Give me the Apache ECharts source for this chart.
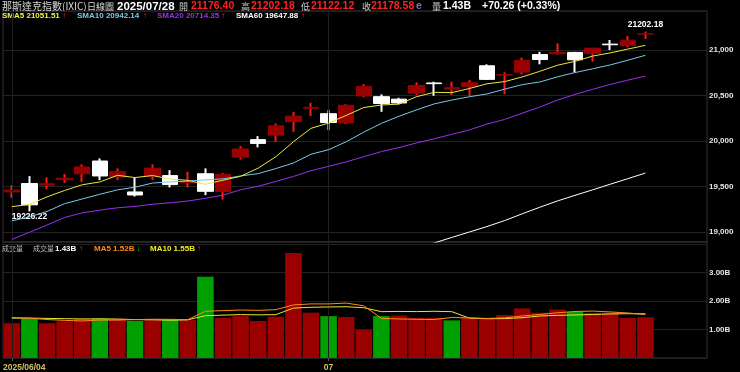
<!DOCTYPE html>
<html><head><meta charset="utf-8">
<script src="https://cdn.jsdelivr.net/npm/echarts@6/dist/echarts.min.js"></script>
<style>html,body{margin:0;padding:0;background:#000;}#c{width:740px;height:372px;}</style>
</head><body><div id="c"></div>
<script>
const dates = ['2025/06/04','2025/06/05','2025/06/06','2025/06/09','2025/06/10','2025/06/11','2025/06/12','2025/06/13','2025/06/16','2025/06/17','2025/06/18','2025/06/20','2025/06/23','2025/06/24','2025/06/25','2025/06/26','2025/06/27','2025/06/30','2025/07/01','2025/07/02','2025/07/03','2025/07/07','2025/07/08','2025/07/09','2025/07/10','2025/07/11','2025/07/14','2025/07/15','2025/07/16','2025/07/17','2025/07/18','2025/07/21','2025/07/22','2025/07/23','2025/07/24','2025/07/25','2025/07/28'];
const emptySlots = ['_a','_b','_c'];
const openP  = [19440,19533,19515,19575,19640,19780,19605,19440,19615,19620,19540,19640,19445,19822,20015,20065,20212,20360,20300,20200,20495,20487,20460,20525,20638,20570,20598,20827,20725,20757,20950,20960,20974,20964,21065,21048,21176.40];
const closeP = [19460.49,19298.45,19529.95,19591.24,19714.99,19615.88,19662.49,19406.83,19701.21,19521.09,19546.27,19447.41,19630.97,19912.53,19973.55,20167.91,20273.46,20369.73,20202.89,20393.13,20601.10,20412.52,20418.46,20611.34,20630.67,20585.53,20640.33,20677.80,20730.49,20885.65,20895.66,20974.17,20892.69,21020.02,21057.96,21108.32,21178.58];
const highP  = [19515,19614,19600,19636,19743,19809,19699,19600,19743,19680,19662,19699,19650,19944,20054,20193,20321,20420,20340,20403,20626,20513,20475,20645,20652,20652,20670,20843,20755,20916,20981,21073,20980,21025,21110,21154,21202.18];
const lowP   = [19375,19226.22,19470,19540,19550,19570,19570,19390,19570,19490,19490,19405,19357,19797,19930,19991,20101,20275,20120,20186,20480,20321,20406,20505,20497,20505,20494,20670,20516,20733,20843,20950,20755,20871,21000,21030,21122.12];
const sma5  = [19278.3,19302.9,19386.1,19455.8,19519.0,19550.1,19622.9,19598.3,19620.3,19581.5,19567.6,19524.6,19569.4,19611.7,19702.1,19826.5,19991.7,20139.4,20197.5,20281.4,20368.1,20395.9,20405.6,20487.3,20534.8,20531.7,20577.3,20629.1,20653.0,20704.0,20766.0,20832.8,20875.7,20933.6,20968.1,21010.6,21051.51];
const sma10 = [19122.7,19165.4,19225.8,19311.2,19362.7,19414.2,19462.9,19492.2,19538.1,19550.3,19558.9,19573.8,19583.9,19616.0,19641.8,19697.1,19758.2,19854.4,19904.6,19991.8,20097.3,20193.8,20272.5,20342.4,20408.1,20449.9,20486.6,20517.4,20570.2,20619.4,20648.9,20705.1,20752.4,20793.3,20836.1,20888.3,20942.14];
const sma20 = [18918.5,18996.5,19076.6,19159.7,19210.0,19240.3,19266.1,19280.8,19305.3,19320.6,19340.8,19369.6,19404.9,19463.6,19502.3,19555.7,19610.6,19673.3,19721.4,19771.1,19828.1,19883.8,19928.2,19979.2,20025.0,20073.5,20122.4,20185.9,20237.4,20305.6,20373.1,20449.5,20512.5,20567.9,20622.1,20669.1,20714.35];
const sma60 = [17925,17930,17940,17950,17965,17980,17995,18010,18030,18050,18075,18100,18130,18165,18205,18245,18290,18345,18420,18500,18580,18660,18740,18815,18880,18940,19000,19060,19125,19200,19272,19341,19403,19463,19525,19586,19647.88];
const volumes = [1.22,1.38,1.22,1.29,1.38,1.38,1.38,1.30,1.36,1.36,1.33,2.85,1.41,1.47,1.30,1.45,3.68,1.59,1.47,1.44,0.98,1.47,1.49,1.41,1.41,1.32,1.41,1.39,1.51,1.74,1.59,1.70,1.62,1.58,1.59,1.41,1.43];
const volUp = [1,0,1,1,1,0,1,0,1,0,1,0,1,1,1,1,1,1,0,1,1,0,1,1,1,0,1,1,1,1,1,1,0,1,1,1,1];
const volMA5  = [1.42,1.40,1.35,1.32,1.30,1.33,1.33,1.346,1.36,1.356,1.346,1.64,1.662,1.684,1.672,1.696,1.862,1.898,1.898,1.926,1.832,1.39,1.37,1.358,1.352,1.42,1.408,1.388,1.408,1.474,1.528,1.586,1.632,1.646,1.616,1.58,1.52];
const volMA10 = [1.40,1.40,1.39,1.38,1.37,1.375,1.365,1.348,1.34,1.327,1.338,1.485,1.504,1.522,1.514,1.521,1.751,1.78,1.791,1.799,1.764,1.626,1.634,1.628,1.639,1.626,1.399,1.379,1.383,1.413,1.474,1.497,1.51,1.527,1.545,1.554,1.55];
const xLabelIdx = [0, 18];
const xLabelText = ['2025/06/04', '07'];
const volLabelMax = 3;

const RED_BODY = '#9a0000', RED_WICK = '#ff1a1a', WHITE = '#ffffff', GREEN = '#00a000';
const cats = dates.concat(emptySlots);
const last = dates.length - 1;
const fmtB = v => v.toFixed(2) + 'B';
const change = closeP[last] - closeP[last - 1];

const CJK = '"Noto Sans CJK TC"';
const SMALL = 'bold 8px "Liberation Sans"';
const TOPV = 'bold 10.5px "Liberation Sans"';
function T(x, y, text, fill, font) {
  return {type: 'text', x: x, y: y, silent: true, style: {text: text, fill: fill, font: font, textVerticalAlign: 'middle'}};
}
const graphics = [
  T(2, 6.5, '那斯達克指數(IXIC)', '#d8d8d8', '10px ' + CJK),
  T(87, 6.5, '日線圖', '#d8d8d8', '9px ' + CJK),
  T(117, 6.5, dates[last], '#ffffff', 'bold 11.5px "Liberation Sans"'),
  T(179, 6.5, '開', '#cccccc', '9px ' + CJK),
  T(191, 6.5, openP[last].toFixed(2), '#ff2222', TOPV),
  T(241, 6.5, '高', '#cccccc', '9px ' + CJK),
  T(251, 6.5, highP[last].toFixed(2), '#ff2222', TOPV),
  T(301, 6.5, '低', '#cccccc', '9px ' + CJK),
  T(311, 6.5, lowP[last].toFixed(2), '#ff2222', TOPV),
  T(362, 6.5, '收', '#cccccc', '9px ' + CJK),
  T(371, 6.5, closeP[last].toFixed(2), '#ff2222', TOPV),
  T(416, 6.5, 'e', '#8a6cd0', TOPV),
  T(432, 6.5, '量', '#cccccc', '9px ' + CJK),
  T(443, 6.5, fmtB(volumes[last]), '#ffffff', TOPV),
  T(482, 6.5, '+' + change.toFixed(2) + ' (+' + (change / closeP[last - 1] * 100).toFixed(2) + '%)', '#ffffff', TOPV),
  T(2, 15.5, 'SMA5 ' + sma5[last].toFixed(2), '#f0f040', SMALL),
  T(62, 15.5, '↑', '#ff2222', SMALL),
  T(77, 15.5, 'SMA10 ' + sma10[last].toFixed(2), '#78c8e8', SMALL),
  T(143, 15.5, '↑', '#ff2222', SMALL),
  T(157, 15.5, 'SMA20 ' + sma20[last].toFixed(2), '#9a30f0', SMALL),
  T(221, 15.5, '↑', '#ff2222', SMALL),
  T(236, 15.5, 'SMA60 ' + sma60[last].toFixed(2), '#ffffff', SMALL),
  T(301, 15.5, '↑', '#ff2222', SMALL),
  T(2, 248.5, '成交量', '#bbbbbb', '7px ' + CJK),
  T(33, 248.5, '成交量', '#bbbbbb', '7px ' + CJK),
  T(55, 248.5, fmtB(volumes[last]), '#ffffff', SMALL),
  T(79, 248.5, '↑', '#ff2222', SMALL),
  T(94, 248.5, 'MA5 ' + fmtB(volMA5[last]), '#ff8c1a', SMALL),
  T(136, 248.5, '↓', '#20d020', SMALL),
  T(150, 248.5, 'MA10 ' + fmtB(volMA10[last]), '#f0f020', SMALL),
  T(197, 248.5, '↑', '#ff2222', SMALL)
];

const ohlc = dates.map((d, i) => [openP[i], closeP[i], lowP[i], highP[i]]);
const bodies = dates.map((d, i) => [openP[i], closeP[i], Math.min(openP[i], closeP[i]), Math.max(openP[i], closeP[i])]);
const gridLine = {color: '#222222', width: 1};
const vLines = xLabelIdx.map(i => ({xAxis: cats[i]}));

const chart = echarts.init(document.getElementById('c'), null, {renderer: 'canvas'});
chart.setOption({
  backgroundColor: '#000',
  animation: false,
  graphic: graphics,
  grid: [
    {left: 3, right: 33, top: 11, height: 231, show: true, borderColor: '#3a303a', borderWidth: 1},
    {left: 3, right: 33, top: 242, height: 117, show: true, borderColor: '#3a303a', borderWidth: 1}
  ],
  xAxis: [
    {type: 'category', gridIndex: 0, data: cats, boundaryGap: true,
     axisLine: {show: false}, axisTick: {show: false}, axisLabel: {show: false}, splitLine: {show: false}},
    {type: 'category', gridIndex: 1, data: cats, boundaryGap: true,
     axisLine: {show: false},
     axisTick: {show: true, alignWithLabel: true, length: 3, interval: (i) => xLabelIdx.includes(i), lineStyle: {color: '#555'}},
     axisLabel: {interval: (i) => xLabelIdx.includes(i), margin: 5, color: '#d2c060', fontSize: 8.5, fontWeight: 'bold', fontFamily: 'Liberation Sans',
       formatter: (v, i) => { const k = xLabelIdx.indexOf(i); return k === 0 ? '{f|' + xLabelText[k] + '}' : xLabelText[k]; },
       rich: {f: {padding: [0, 0, 0, 25], color: '#d2c060', fontSize: 8.5, fontWeight: 'bold', fontFamily: 'Liberation Sans'}}},
     splitLine: {show: false}}
  ],
  yAxis: [
    {type: 'value', gridIndex: 0, position: 'right', min: 18890, max: 21429, splitNumber: 5,
     axisLine: {show: false}, axisTick: {show: false},
     axisLabel: {showMinLabel: false, showMaxLabel: false, margin: 2, color: '#e6e6e6', fontSize: 8, fontWeight: 'bold', fontFamily: 'Liberation Sans'},
     splitLine: {show: true, lineStyle: gridLine}},
    {type: 'value', gridIndex: 1, position: 'right', min: 0, max: 4.07, splitNumber: 4,
     axisLine: {show: false}, axisTick: {show: false},
     axisLabel: {showMinLabel: false, showMaxLabel: false, margin: 2, color: '#e6e6e6', fontSize: 8, fontWeight: 'bold', fontFamily: 'Liberation Sans',
       formatter: v => (v > volLabelMax + 0.01 ? '' : fmtB(v))},
     splitLine: {show: true, lineStyle: gridLine}}
  ],
  series: [
    {type: 'candlestick', name: 'wick', xAxisIndex: 0, yAxisIndex: 0, data: ohlc, barWidth: 1,
     itemStyle: {color: RED_WICK, color0: WHITE, borderColor: RED_WICK, borderColor0: WHITE, borderWidth: 2},
     markLine: {silent: true, symbol: ['none', 'none'], label: {show: false}, lineStyle: {color: '#1e1e1e', type: 'solid', width: 1}, data: vLines},
     markPoint: {symbol: 'circle', symbolSize: 0, silent: true,
       label: {show: true, color: '#ffffff', fontSize: 8.5, fontWeight: 'bold', fontFamily: 'Liberation Sans', formatter: p => Number(p.value).toFixed(2)},
       data: [
         {type: 'max', valueDim: 'highest', label: {position: 'top', distance: 2}},
         {type: 'min', valueDim: 'lowest', label: {position: 'bottom', distance: 1}}
       ]}},
    {type: 'candlestick', name: 'body', xAxisIndex: 0, yAxisIndex: 0, data: bodies, barWidth: '90%',
     itemStyle: {color: RED_BODY, color0: WHITE, borderColor: RED_BODY, borderColor0: WHITE, borderWidth: 1}},
    {type: 'line', name: 'SMA60', data: sma60, showSymbol: false, z: 5, lineStyle: {color: '#ffffff', width: 1}},
    {type: 'line', name: 'SMA20', data: sma20, showSymbol: false, z: 5, lineStyle: {color: '#9a30f0', width: 1}},
    {type: 'line', name: 'SMA10', data: sma10, showSymbol: false, z: 5, lineStyle: {color: '#78c8e8', width: 1}},
    {type: 'line', name: 'SMA5', data: sma5, showSymbol: false, z: 5, lineStyle: {color: '#e8e840', width: 1}},
    {type: 'bar', name: 'vol', xAxisIndex: 1, yAxisIndex: 1, barWidth: '94%',
     data: volumes.map((v, i) => ({value: v, itemStyle: {color: volUp[i] ? RED_BODY : GREEN}})),
     markLine: {silent: true, symbol: ['none', 'none'], label: {show: false}, lineStyle: {color: '#1e1e1e', type: 'solid', width: 1}, data: vLines}},
    {type: 'line', name: 'MA10', xAxisIndex: 1, yAxisIndex: 1, data: volMA10, showSymbol: false, z: 5, lineStyle: {color: '#e8e830', width: 1}},
    {type: 'line', name: 'MA5', xAxisIndex: 1, yAxisIndex: 1, data: volMA5, showSymbol: false, z: 5, lineStyle: {color: '#ff8c1a', width: 1}}
  ]
});
</script></body></html>
